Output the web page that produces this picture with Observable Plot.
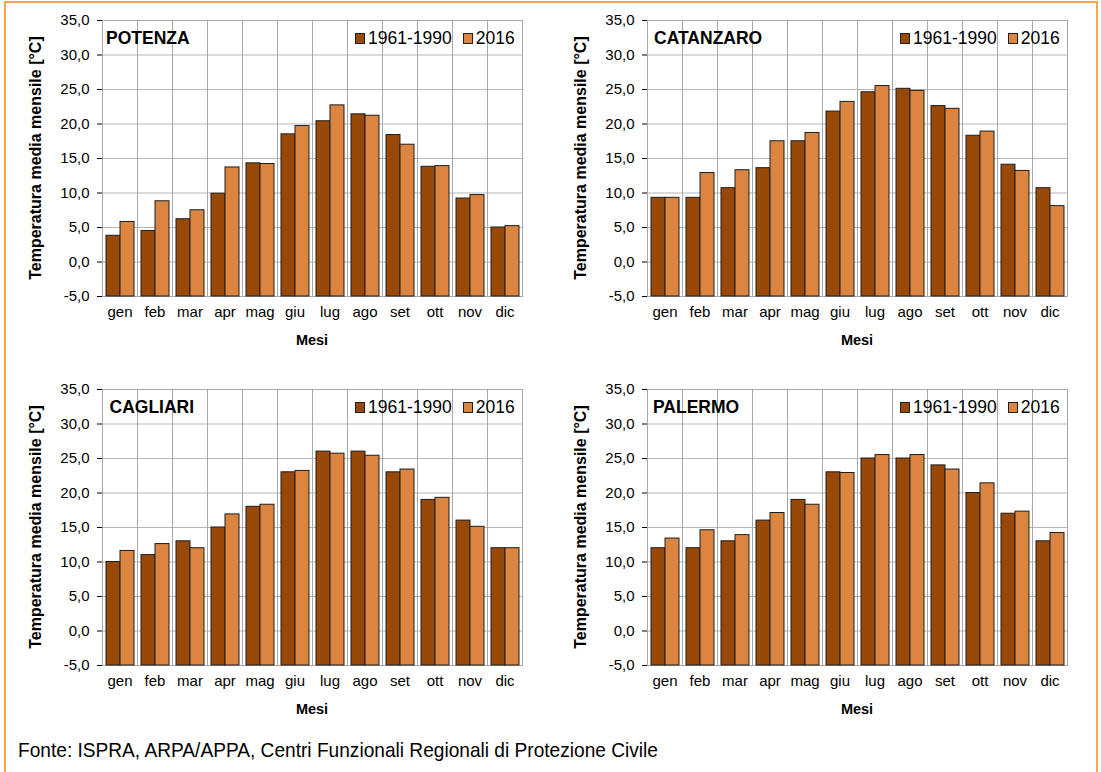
<!DOCTYPE html>
<html>
<head>
<meta charset="utf-8">
<script src="https://cdn.jsdelivr.net/npm/d3@7"></script>
<script src="https://cdn.jsdelivr.net/npm/@observablehq/plot@0.6"></script>
<style>
  body { margin: 0; background: #fff; font-family: "Liberation Sans", Arial, sans-serif; }
  #wrap { position: relative; width: 1101px; height: 772px; overflow: hidden; background: #fff; }
  #frame { position: absolute; left: 4px; top: 1px; width: 1090px; height: 820px; border: 2px solid #F8A54D; border-bottom: none; }
  .panel { position: absolute; }
  .panel svg [aria-label="y-axis tick"] { stroke: #8c8c8c; }
  .title { position: absolute; font-weight: bold; font-size: 17.5px; line-height: 1; color: #000; white-space: nowrap; }
  .legend { position: absolute; font-size: 17.5px; line-height: 1; display: flex; align-items: center; white-space: nowrap; color: #000; }
  .sw { display: inline-block; width: 8px; height: 9px; border: 1px solid #222; margin-right: 3px; }
  .ylab { position: absolute; font-weight: bold; font-size: 16px; white-space: nowrap; transform: translate(-50%, -50%) rotate(-90deg); color: #000; }
  .xlab { position: absolute; font-weight: bold; font-size: 14.5px; white-space: nowrap; transform: translate(-50%, -50%); color: #000; }
  #source { position: absolute; left: 18px; top: 739px; font-family: "Liberation Sans", Arial, sans-serif; font-size: 21px; line-height: 1; white-space: nowrap; color: #000; transform-origin: 0 0; }
</style>
</head>
<body>
<div id="wrap">
  <div id="frame"></div>
  <div id="source">Fonte: ISPRA, ARPA/APPA, Centri Funzionali Regionali di Protezione Civile</div>
</div>
<script>
// ---- data ----
const months = ["gen", "feb", "mar", "apr", "mag", "giu", "lug", "ago", "set", "ott", "nov", "dic"];
const series = ["1961-1990", "2016"];
const colors = ["#984807", "#DB8540"];
const yTicks = [-5, 0, 5, 10, 15, 20, 25, 30, 35];

const stations = ["POTENZA", "CATANZARO", "CAGLIARI", "PALERMO"];

const potenza_1961_1990   = [3.8, 4.5, 6.2, 9.9, 14.3, 18.5, 20.4, 21.4, 18.4, 13.8, 9.2, 5.0];
const potenza_2016        = [5.8, 8.8, 7.5, 13.7, 14.2, 19.7, 22.7, 21.2, 17.0, 13.9, 9.7, 5.2];
const catanzaro_1961_1990 = [9.3, 9.3, 10.7, 13.6, 17.5, 21.8, 24.6, 25.1, 22.6, 18.3, 14.1, 10.7];
const catanzaro_2016      = [9.3, 12.9, 13.3, 17.5, 18.7, 23.2, 25.5, 24.8, 22.2, 18.9, 13.2, 8.1];
const cagliari_1961_1990  = [10.0, 11.0, 13.0, 15.0, 18.0, 23.0, 26.0, 26.0, 23.0, 19.0, 16.0, 12.0];
const cagliari_2016       = [11.6, 12.6, 12.0, 16.9, 18.3, 23.2, 25.7, 25.4, 23.4, 19.3, 15.1, 12.0];
const palermo_1961_1990   = [12.0, 12.0, 13.0, 16.0, 19.0, 23.0, 25.0, 25.0, 24.0, 20.0, 17.0, 13.0];
const palermo_2016        = [13.4, 14.6, 13.9, 17.1, 18.3, 22.9, 25.5, 25.5, 23.4, 21.4, 17.3, 14.2];

const stationValues = [
  [potenza_1961_1990, potenza_2016],
  [catanzaro_1961_1990, catanzaro_2016],
  [cagliari_1961_1990, cagliari_2016],
  [palermo_1961_1990, palermo_2016]
];

// ---- layout ----
const W = 544, H = 360, mL = 97, mR = 17, mT = 20, mB = 64;
const panelPos = [
  {left: 0, top: 0, titleDx: 9},
  {left: 545, top: 0, titleDx: 12},
  {left: 0, top: 369, titleDx: 12.5},
  {left: 545, top: 369, titleDx: 11}
];
const fmt = d => d.toFixed(1).replace(".", ",");
const wrap = document.getElementById("wrap");

stations.forEach((name, i) => {
  const [a, b] = stationValues[i];
  const rows = [];
  months.forEach((m, j) => {
    rows.push({month: m, series: series[0], value: a[j]});
    rows.push({month: m, series: series[1], value: b[j]});
  });
  const pos = panelPos[i];
  const chart = Plot.plot({
    width: W, height: H,
    marginLeft: mL, marginRight: mR, marginTop: mT, marginBottom: mB,
    style: {fontFamily: "'Liberation Sans', Arial, sans-serif", fontSize: "15px", color: "#000", background: "transparent"},
    fx: {domain: months, padding: 0, axis: "bottom", label: null, tickSize: 0, tickPadding: 10},
    x: {domain: series, axis: null, paddingInner: 0, paddingOuter: 0.19},
    y: {domain: [yTicks[0], yTicks[yTicks.length - 1]], ticks: yTicks, tickFormat: fmt, tickSize: 5, tickPadding: 8, label: null},
    color: {domain: series, range: colors},
    marks: [
      Plot.ruleY(yTicks, {stroke: "#b5b5b5", strokeWidth: 1}),
      Plot.frame({stroke: "#a8a8a8"}),
      Plot.barY(rows, {fx: "month", x: "series", y1: yTicks[0], y2: "value", fill: "series", stroke: "#1e1e1e", strokeWidth: 1})
    ]
  });
  const div = document.createElement("div");
  div.className = "panel";
  div.style.left = pos.left + "px";
  div.style.top = pos.top + "px";
  div.appendChild(chart);
  wrap.appendChild(div);

  const pL = pos.left + mL, pT = pos.top + mT, pW = W - mL - mR, pH = H - mT - mB;

  const t = document.createElement("div");
  t.className = "title";
  t.textContent = name;
  t.style.left = (pL + pos.titleDx) + "px";
  t.style.top = (pT + 9.5) + "px";
  wrap.appendChild(t);

  const lg = document.createElement("div");
  lg.className = "legend";
  lg.style.left = (pL + 258) + "px";
  lg.style.top = (pT + 10) + "px";
  series.forEach((s, k) => {
    const sw = document.createElement("span");
    sw.className = "sw";
    sw.style.background = colors[k];
    if (k > 0) sw.style.marginLeft = "11px";
    const tx = document.createElement("span");
    tx.textContent = s;
    lg.appendChild(sw);
    lg.appendChild(tx);
  });
  wrap.appendChild(lg);

  const yl = document.createElement("div");
  yl.className = "ylab";
  yl.textContent = "Temperatura media mensile [°C]";
  yl.style.left = (pL - 61) + "px";
  yl.style.top = (pT + pH / 2) + "px";
  wrap.appendChild(yl);

  const xl = document.createElement("div");
  xl.className = "xlab";
  xl.textContent = "Mesi";
  xl.style.left = (pL + pW / 2) + "px";
  xl.style.top = (pT + pH + 44) + "px";
  wrap.appendChild(xl);
});

// condense the source line to the narrow width of the original
const src = document.getElementById("source");
const sw0 = src.getBoundingClientRect().width;
src.style.transform = `scaleX(${640 / sw0})`;
</script>
</body>
</html>
